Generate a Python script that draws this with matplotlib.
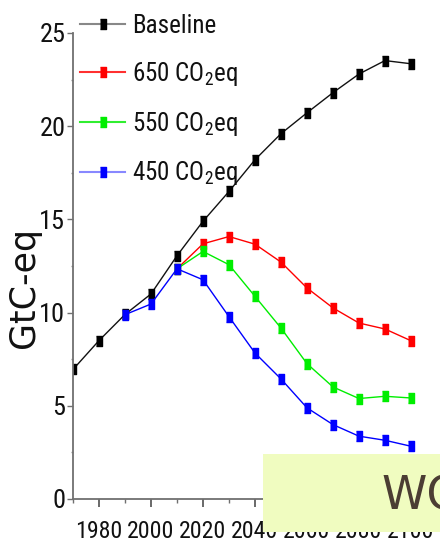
import matplotlib
matplotlib.use("Agg")
import matplotlib.pyplot as plt
from matplotlib.lines import Line2D
from matplotlib.patches import Rectangle
from matplotlib.ticker import MultipleLocator
from matplotlib import font_manager
from matplotlib.font_manager import FontProperties

# ---- data ----
years_base = [1970, 1980, 1990, 2000, 2010, 2020, 2030, 2040, 2050, 2060, 2070, 2080, 2090, 2100]
baseline = [6.95, 8.5, 9.9, 11.0, 13.05, 14.9, 16.5, 18.2, 19.6, 20.72, 21.8, 22.8, 23.52, 23.35]

years_stab = [2010, 2020, 2030, 2040, 2050, 2060, 2070, 2080, 2090, 2100]
s650 = [12.35, 13.69, 14.08, 13.67, 12.71, 11.32, 10.25, 9.44, 9.12, 8.49]
s550 = [12.35, 13.28, 12.57, 10.87, 9.17, 7.26, 6.01, 5.39, 5.51, 5.42]

years_450 = [1990, 2000, 2010, 2020, 2030, 2040, 2050, 2060, 2070, 2080, 2090, 2100]
s450 = [9.89, 10.46, 12.35, 11.76, 9.78, 7.83, 6.44, 4.89, 3.99, 3.37, 3.15, 2.83]

labels = ["Baseline", "650 CO$_2$eq", "550 CO$_2$eq", "450 CO$_2$eq"]
xtick_vals = [1980, 2000, 2020, 2040, 2060, 2080, 2100]
ytick_vals = [0, 5, 10, 15, 20, 25]

# ---- fonts: pick the narrowest available sans ----
ttf = font_manager.fontManager.ttflist
names = {f.name for f in ttf}
narrow_props = None
for nm in ["Liberation Sans Narrow", "Roboto Condensed", "Open Sans Condensed", "Arial Narrow"]:
    if nm in names:
        narrow_props = dict(family=[nm, 'DejaVu Sans'], stretch='normal')
        break
if narrow_props is None:
    if any(f.name == "DejaVu Sans" and str(f.stretch) in ("condensed", "semi-condensed", "75", "87")
           for f in ttf):
        narrow_props = dict(family=['DejaVu Sans'], stretch='condensed')
    else:
        narrow_props = dict(family=['Liberation Sans', 'DejaVu Sans'], stretch='normal')

plt.rcParams['mathtext.default'] = 'regular'

fig = plt.figure(figsize=(4.4, 5.52), dpi=100)
renderer = fig.canvas.get_renderer()


def size_for_width(txt, target_px):
    t = fig.text(0, 0, txt, fontsize=20, **narrow_props)
    w = t.get_window_extent(renderer).width
    t.remove()
    return 20 * target_px / w


xt_size = size_for_width("1980", 47)
yt_size = size_for_width("25", 26)
lg_size = size_for_width("Baseline", 84)

ax = fig.add_axes([73/440, 53/552, 364/440, 466/552])

rect_marker = [(-0.28, -0.5), (0.28, -0.5), (0.28, 0.5), (-0.28, 0.5)]
lw = 1.0
ms = 6.8
ax.plot(years_base, baseline, color='#111111', lw=lw, marker=rect_marker, ms=ms, mec='black', mfc='black')
ax.plot(years_stab, s650, color='#ff0000', lw=lw, marker=rect_marker, ms=ms, mec='#ff0000', mfc='#ff0000')
ax.plot(years_stab, s550, color='#00ee00', lw=lw, marker=rect_marker, ms=ms, mec='#00ee00', mfc='#00ee00')
ax.plot(years_450, s450, color='#0000ff', lw=lw, marker=rect_marker, ms=ms, mec='#0000ff', mfc='#0000ff')

ax.set_xlim(1970, 2110)
ax.set_ylim(0, 25)
ax.set_xticks(xtick_vals)
ax.set_xticklabels([str(v) for v in xtick_vals])
ax.set_yticks(ytick_vals)
ax.set_yticklabels([str(v) for v in ytick_vals])
ax.xaxis.set_minor_locator(MultipleLocator(10))
ax.yaxis.set_minor_locator(MultipleLocator(2.5))

for s in ['top', 'right']:
    ax.spines[s].set_visible(False)
for s in ['left', 'bottom']:
    ax.spines[s].set_color('#707070')
    ax.spines[s].set_linewidth(1.3)

ax.tick_params(axis='x', which='major', direction='out', length=6, width=1.2, color='#505050', pad=9)
ax.tick_params(axis='x', which='minor', direction='out', length=3, width=1.0, color='#707070')
ax.tick_params(axis='y', which='major', direction='out', length=4, width=1.0, color='#707070', pad=1.5)
ax.tick_params(axis='y', which='minor', direction='out', length=1.5, width=1.0, color='#909090')
for lab in ax.get_xticklabels():
    lab.set_fontfamily(narrow_props['family'])
    lab.set_fontstretch(narrow_props['stretch'])
    lab.set_fontsize(xt_size)
    lab.set_color('#111111')
for lab in ax.get_yticklabels():
    lab.set_fontfamily(narrow_props['family'])
    lab.set_fontstretch(narrow_props['stretch'])
    lab.set_fontsize(yt_size)
    lab.set_color('#111111')

fig.text(24/440, 1 - 288/552, "GtC-eq", rotation=90, ha='center', va='center',
         fontsize=25, family=['DejaVu Sans'], color='#111111')

handles = [
    Line2D([], [], color='#888888', lw=1.5, marker=rect_marker, ms=ms, mfc='black', mec='black'),
    Line2D([], [], color='#ff3030', lw=1.5, marker=rect_marker, ms=ms, mfc='#ff0000', mec='#ff0000'),
    Line2D([], [], color='#30ee30', lw=1.5, marker=rect_marker, ms=ms, mfc='#00ee00', mec='#00ee00'),
    Line2D([], [], color='#8888ff', lw=1.5, marker=rect_marker, ms=ms, mfc='#0000ff', mec='#0000ff'),
]
lg_px = lg_size * 100 / 72
leg = fig.legend(handles, labels, loc='upper left', bbox_to_anchor=(80/440, 1 - 14/552),
                 bbox_transform=fig.transFigure,
                 frameon=False, handlelength=45/lg_px, handletextpad=7/lg_px,
                 labelspacing=0.87, borderpad=0, borderaxespad=0,
                 prop=FontProperties(family=narrow_props['family'], stretch=narrow_props['stretch'],
                                     size=lg_size))
for t in leg.get_texts():
    t.set_color('#111111')

# overlay box partially covering the chart
fig.add_artist(Rectangle((263/440, 1 - 532/552), (440 - 263)/440, (532 - 454)/552,
                         transform=fig.transFigure, facecolor='#f0fcc0', edgecolor='none', zorder=10))
fig.text(381/440, 1 - 510/552, "WO", ha='left', va='baseline', fontsize=33,
         family=['DejaVu Sans'], color='#4b3d33', zorder=11)

fig.savefig("out.png", dpi=100)
